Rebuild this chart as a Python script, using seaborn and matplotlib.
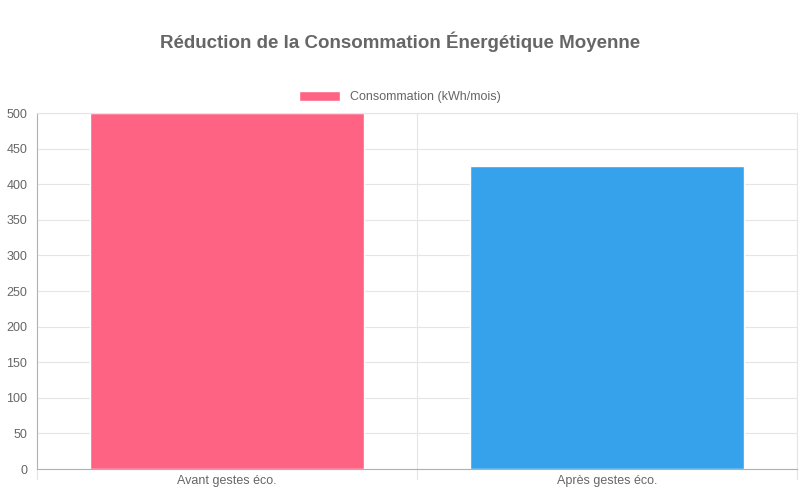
import matplotlib
matplotlib.use("Agg")
import matplotlib.pyplot as plt
import seaborn as sns
import pandas as pd
from matplotlib.patches import Patch

categories = ["Avant gestes éco.", "Après gestes éco."]
values = [500, 425]
colors = ["#FF6384", "#36A2EB"]
title = "Réduction de la Consommation Énergétique Moyenne"
legend_label = "Consommation (kWh/mois)"

sns.set_style("white")
plt.rcParams['font.family'] = ['Liberation Sans', 'DejaVu Sans']

df = pd.DataFrame({"cat": categories, "val": values})
fig = plt.figure(figsize=(8, 5), dpi=100)
ax = fig.add_axes([37/800, 1-469/500, 760/800, 356/500])
sns.barplot(data=df, x="cat", y="val", hue="cat", palette=colors, width=0.72,
            ax=ax, legend=False, saturation=1)
ax.set_xlim(-0.5, 1.5)
ax.set_ylim(0, 500)
ax.set_yticks(range(0, 501, 50))
ax.set_xlabel("")
ax.set_ylabel("")
ax.set_axisbelow(True)
ax.yaxis.grid(True, color="#e5e5e5", lw=0.8)
for x in [0.5]:
    ax.axvline(x, color="#e5e5e5", lw=0.8, zorder=0)
for s in ["top", "right"]:
    ax.spines[s].set_color("#e5e5e5")
for s in ["left", "bottom"]:
    ax.spines[s].set_color("#b0b0b0")
ax.set_xticks([-0.5, 0, 0.5, 1, 1.5], ["", categories[0], "", categories[1], ""])
ax.tick_params(axis="x", length=0, colors="#666666", labelsize=9, pad=4)
ax.tick_params(axis="y", length=5, color="#e5e5e5", colors="#666666", labelsize=9, pad=2)
for x in [-0.5, 0.5, 1.5]:
    ax.plot([x, x], [0, -14], color="#e5e5e5", lw=0.8, clip_on=False, transform=ax.transData)
fig.text(0.5, 1-42/500, title, ha="center", va="center", fontsize=13.5,
         fontweight="bold", color="#666666")
fig.legend(handles=[Patch(facecolor=colors[0], label=legend_label)],
           loc="center", bbox_to_anchor=(0.5, 1-97/500), frameon=False,
           handlelength=3.3, handleheight=0.9, fontsize=9, labelcolor="#666666")
fig.savefig("out.png", dpi=100)
